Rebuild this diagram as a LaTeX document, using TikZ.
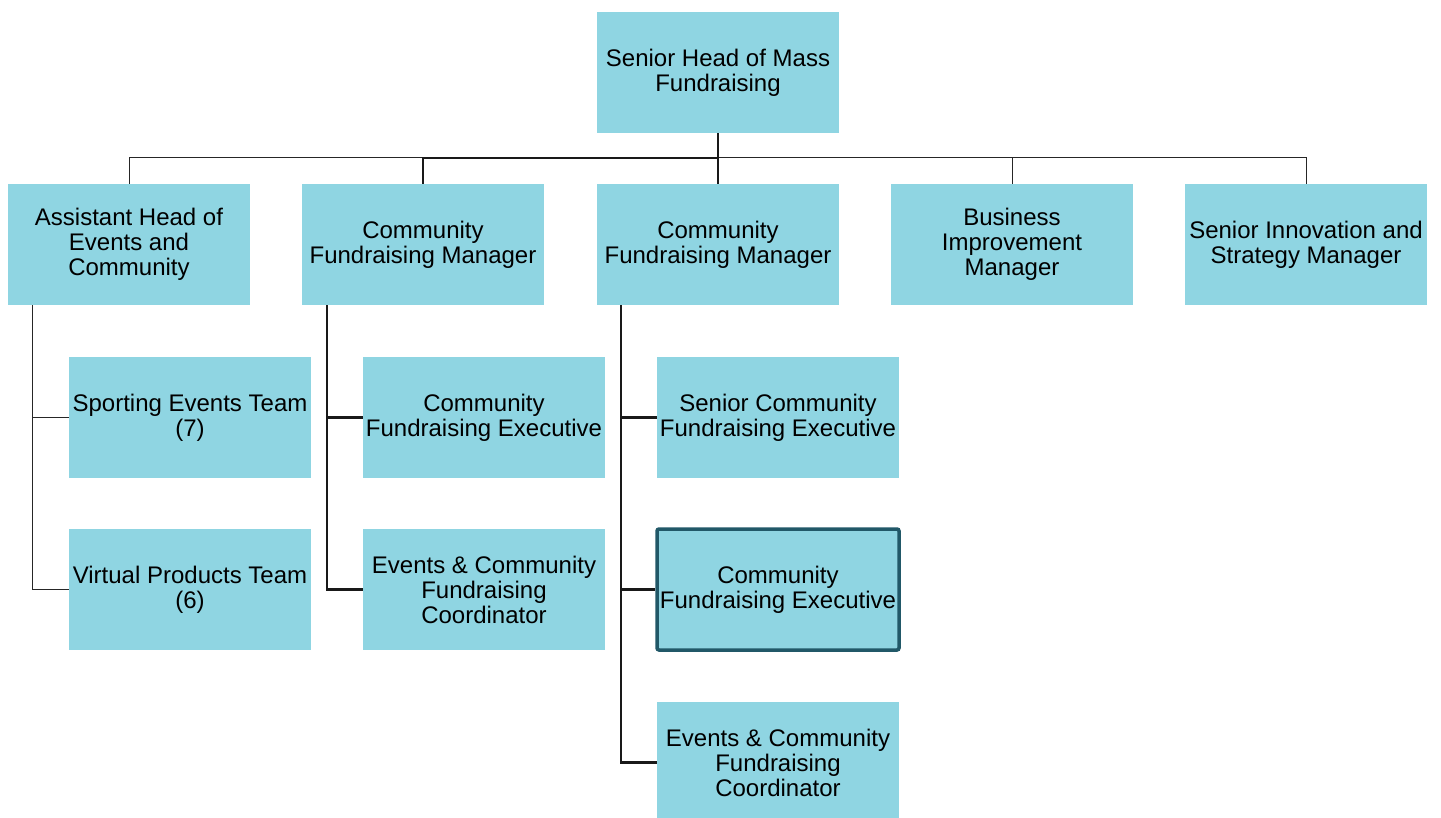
\documentclass[tikz,border=0pt]{standalone}
\usepackage{fontspec}
\setmainfont{Liberation Sans}
\definecolor{boxfill}{RGB}{143,213,226}
\definecolor{edgeteal}{RGB}{33,88,104}
\usetikzlibrary{positioning}

\tikzset{
    role/.style={fill=boxfill, minimum width=242, minimum height=121, inner sep=0pt,
        align=center, font=\fontsize{24}{25}\selectfont},
    focus/.style={role, draw=edgeteal, line width=3.5pt, rounded corners=2pt},
    thinline/.style={line width=1pt, black!85},
    thickline/.style={line width=2.4pt, black!90}
}

\begin{document}
\begin{tikzpicture}[x=1pt,y=-1pt]
    \useasboundingbox (0,0) rectangle (1441,818);
    \clip (0,0) rectangle (1441,818);

    % head of department
    \node[role] (head) at (718,72.5) {Senior Head of Mass\\Fundraising};

    % managers
    \node[role] (ahead) at (129,244.5) {Assistant Head of\\Events and\\Community};
    \node[role] (cfmA) at (423,244.5) {Community\\Fundraising Manager};
    \node[role] (cfmB) at (718,244.5) {Community\\Fundraising Manager};
    \node[role] (bim)  at (1012,244.5) {Business\\Improvement\\Manager};
    \node[role] (sism) at (1306,244.5) {Senior Innovation and\\Strategy Manager};

    % teams under the assistant head
    \node[role] (sport)   at (190,417.5) {Sporting Events Team\\(7)};
    \node[role] (virtual) at (190,589.5) {Virtual Products Team\\(6)};

    % first community manager
    \node[role] (cfeA)  at (484,417.5) {Community\\Fundraising Executive};
    \node[role] (coorA) at (484,589.5) {Events \& Community\\Fundraising\\Coordinator};

    % second community manager
    \node[role]  (scfe)  at (778,417.5) {Senior Community\\Fundraising Executive};
    \node[focus] (cfeB)  at (778,589.5) {Community\\Fundraising Executive};
    \node[role]  (coorB) at (778,762.5) {Events \& Community\\Fundraising\\Coordinator};

    % bus under the head
    \coordinate (bus) at (718,158);
    \draw[thinline] (ahead.north) -- (ahead.north |- bus) -- (sism.north |- bus) -- (sism.north);
    \draw[thinline] (bim.north) -- (bim.north |- bus);
    \draw[thickline] (head.south) -- (bus) -- (cfmA.north |- bus) -- (cfmA.north);
    \draw[thickline] (bus) -- (cfmB.north);

    % reporting lines
    \draw[thinline] ([xshift=25]ahead.south west) |- (sport.west);
    \draw[thinline] ([xshift=25]ahead.south west) |- (virtual.west);
    \draw[thickline] ([xshift=25]cfmA.south west) |- (cfeA.west);
    \draw[thickline] ([xshift=25]cfmA.south west) |- (coorA.west);
    \draw[thickline] ([xshift=24]cfmB.south west) |- (scfe.west);
    \draw[thickline] ([xshift=24]cfmB.south west) |- (cfeB.west);
    \draw[thickline] ([xshift=24]cfmB.south west) |- (coorB.west);
\end{tikzpicture}
\end{document}
